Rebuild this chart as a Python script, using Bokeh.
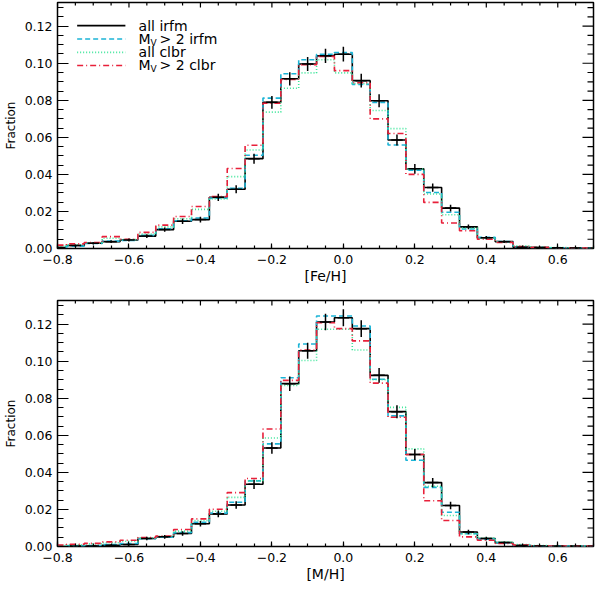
import math

from bokeh.plotting import figure
from bokeh.models import Range1d, FixedTicker
from bokeh.layouts import column
from bokeh.core.properties import value
from bokeh.embed import file_html
from bokeh.resources import INLINE

# bin centres (width 0.05)
bins = [-0.80, -0.75, -0.70, -0.65, -0.60, -0.55, -0.50, -0.45, -0.40, -0.35,
        -0.30, -0.25, -0.20, -0.15, -0.10, -0.05, 0.00, 0.05, 0.10, 0.15,
        0.20, 0.25, 0.30, 0.35, 0.40, 0.45, 0.50, 0.55, 0.60, 0.65, 0.70]

# [Fe/H] panel
fe_all_irfm = [0.0005, 0.0016, 0.0028, 0.0037, 0.0046, 0.0067, 0.0102, 0.0147, 0.0156, 0.0276,
               0.0320, 0.0485, 0.0789, 0.0916, 0.0996, 0.1040, 0.1049, 0.0906, 0.0798, 0.0586,
               0.0430, 0.0329, 0.0218, 0.0117, 0.0058, 0.0037, 0.0007, 0.0005, 0.0004, 0.0003, 0.0002]
fe_all_irfm_err = [0.0003, 0.0005, 0.0006, 0.0007, 0.0008, 0.0010, 0.0012, 0.0015, 0.0015, 0.0020,
                   0.0022, 0.0027, 0.0034, 0.0036, 0.0038, 0.0039, 0.0040, 0.0037, 0.0035, 0.0030,
                   0.0026, 0.0022, 0.0018, 0.0013, 0.0009, 0.0007, 0.0003, 0.0003, 0.0002, 0.0002, 0.0002]
fe_mv_irfm = [0.0003, 0.0013, 0.0027, 0.0040, 0.0044, 0.0071, 0.0107, 0.0150, 0.0165, 0.0272,
              0.0325, 0.0503, 0.0812, 0.0943, 0.1019, 0.1049, 0.1058, 0.0886, 0.0789, 0.0559,
              0.0423, 0.0302, 0.0196, 0.0105, 0.0060, 0.0037, 0.0007, 0.0005, 0.0004, 0.0003, 0.0002]
fe_all_clbr = [0.0012, 0.0020, 0.0030, 0.0055, 0.0048, 0.0078, 0.0117, 0.0161, 0.0211, 0.0267,
               0.0388, 0.0532, 0.0736, 0.0865, 0.0948, 0.1019, 0.0948, 0.0890, 0.0745, 0.0647,
               0.0430, 0.0294, 0.0182, 0.0110, 0.0055, 0.0035, 0.0015, 0.0008, 0.0005, 0.0004, 0.0003]
fe_mv_clbr = [0.0018, 0.0025, 0.0032, 0.0064, 0.0050, 0.0087, 0.0126, 0.0173, 0.0227, 0.0280,
              0.0432, 0.0557, 0.0784, 0.0912, 0.0992, 0.1037, 0.0960, 0.0895, 0.0700, 0.0621,
              0.0400, 0.0249, 0.0138, 0.0096, 0.0050, 0.0033, 0.0010, 0.0006, 0.0004, 0.0003, 0.0002]

# [M/H] panel
m_all_irfm = [0.0000, 0.0002, 0.0003, 0.0007, 0.0011, 0.0043, 0.0052, 0.0070, 0.0123, 0.0176,
              0.0224, 0.0336, 0.0532, 0.0879, 0.1057, 0.1212, 0.1235, 0.1176, 0.0924, 0.0728,
              0.0497, 0.0345, 0.0221, 0.0078, 0.0043, 0.0021, 0.0005, 0.0003, 0.0002, 0.0002, 0.0001]
m_all_irfm_err = [0.0001, 0.0002, 0.0003, 0.0004, 0.0005, 0.0009, 0.0010, 0.0012, 0.0015, 0.0018,
                  0.0020, 0.0025, 0.0031, 0.0039, 0.0043, 0.0045, 0.0046, 0.0045, 0.0040, 0.0035,
                  0.0030, 0.0025, 0.0020, 0.0012, 0.0009, 0.0006, 0.0003, 0.0002, 0.0002, 0.0002, 0.0001]
m_mv_irfm = [0.0000, 0.0003, 0.0005, 0.0010, 0.0016, 0.0042, 0.0050, 0.0075, 0.0130, 0.0180,
             0.0239, 0.0354, 0.0554, 0.0911, 0.1093, 0.1244, 0.1244, 0.1190, 0.0903, 0.0705,
             0.0466, 0.0319, 0.0185, 0.0069, 0.0040, 0.0020, 0.0005, 0.0003, 0.0002, 0.0002, 0.0001]
m_all_clbr = [0.0005, 0.0009, 0.0014, 0.0020, 0.0028, 0.0045, 0.0055, 0.0083, 0.0140, 0.0190,
              0.0265, 0.0354, 0.0586, 0.0870, 0.1004, 0.1173, 0.1173, 0.1061, 0.0900, 0.0751,
              0.0527, 0.0325, 0.0167, 0.0069, 0.0045, 0.0025, 0.0010, 0.0005, 0.0003, 0.0003, 0.0002]
m_mv_clbr = [0.0008, 0.0012, 0.0017, 0.0025, 0.0034, 0.0048, 0.0057, 0.0092, 0.0149, 0.0201,
             0.0291, 0.0367, 0.0634, 0.0897, 0.1061, 0.1208, 0.1176, 0.1110, 0.0882, 0.0698,
             0.0497, 0.0247, 0.0140, 0.0052, 0.0034, 0.0016, 0.0008, 0.0004, 0.0003, 0.0002, 0.0002]

x_ticks = [-0.8, -0.6, -0.4, -0.2, 0.0, 0.2, 0.4, 0.6]
x_labels = ["\u22120.8", "\u22120.6", "\u22120.4", "\u22120.2", "0.0", "0.2", "0.4", "0.6"]
y_ticks = [0.0, 0.02, 0.04, 0.06, 0.08, 0.10, 0.12]
y_labels = ["0.00", "0.02", "0.04", "0.06", "0.08", "0.10", "0.12"]

FONT = "DejaVu Sans"
CYAN = "#1cb4d6"
GREEN = "#3de69a"
RED = "#e8203a"
XMIN, XMAX = -0.8, 0.7
YMIN, YMAX = 0.0, 0.1328


def make_panel(black, black_err, cyan, green, red, xlabel, top, bottom, legend=False):
    p = figure(frame_width=536, frame_height=246, output_backend="svg", toolbar_location=None,
               x_range=Range1d(XMIN, XMAX), y_range=Range1d(YMIN, YMAX),
               min_border_left=47, min_border_right=2, min_border_top=top,
               min_border_bottom=bottom)
    p.grid.visible = False
    p.outline_line_color = "black"
    p.outline_line_width = 1.5
    p.background_fill_color = "white"
    p.border_fill_color = "white"

    xminor = [round(-0.8 + 0.05 * i, 2) for i in range(31)]
    yminor = [round(0.005 * i, 3) for i in range(27)]
    p.xaxis.ticker = FixedTicker(ticks=x_ticks, minor_ticks=xminor)
    p.yaxis.ticker = FixedTicker(ticks=y_ticks, minor_ticks=yminor)
    p.xaxis.major_label_overrides = dict(zip(x_ticks, x_labels))
    p.yaxis.major_label_overrides = dict(zip(y_ticks, y_labels))

    for ax, tin, tmin in ((p.xaxis, 5, 3), (p.yaxis, 11, 6)):
        ax.axis_line_color = None
        ax.major_tick_in = tin
        ax.major_tick_out = 0
        ax.minor_tick_in = tmin
        ax.minor_tick_out = 0
        ax.major_tick_line_color = "black"
        ax.minor_tick_line_color = "black"
        ax.major_tick_line_width = 1.2
        ax.minor_tick_line_width = 1.2
        ax.major_label_text_font = FONT
        ax.major_label_text_font_size = "12.5px"
        ax.major_label_text_color = "black"
        ax.axis_label_text_font = FONT
        ax.axis_label_text_font_style = "normal"
        ax.axis_label_text_color = "black"
    p.xaxis.major_label_standoff = 6
    p.yaxis.major_label_standoff = 5
    p.xaxis.axis_label = xlabel
    p.xaxis.axis_label_text_font_size = "14px"
    p.xaxis.axis_label_standoff = 1
    p.yaxis.axis_label = "Fraction"
    p.yaxis.axis_label_text_font_size = "12px"
    p.yaxis.axis_label_standoff = 4

    # inward ticks on the top and right edges (half of each dash is clipped away)
    top_minor = [t for t in xminor if t not in x_ticks]
    right_minor = [t for t in yminor if t not in y_ticks]
    p.scatter(x_ticks, [YMAX] * len(x_ticks), marker="dash", size=10, angle=math.pi / 2,
              line_color="black", line_width=1.2)
    p.scatter(top_minor, [YMAX] * len(top_minor), marker="dash", size=6, angle=math.pi / 2,
              line_color="black", line_width=1.2)
    p.scatter([XMAX] * len(y_ticks), y_ticks, marker="dash", size=22,
              line_color="black", line_width=1.2)
    p.scatter([XMAX] * len(right_minor), right_minor, marker="dash", size=12,
              line_color="black", line_width=1.2)

    p.step(bins, black, mode="center", line_color="black", line_width=1.6)
    p.step(bins, cyan, mode="center", line_color=CYAN, line_width=1.6, line_dash="5 3")
    p.step(bins, green, mode="center", line_color=GREEN, line_width=1.6, line_dash="1 2")
    p.step(bins, red, mode="center", line_color=RED, line_width=1.6, line_dash="6 3 1 3")

    # error crosses on the black histogram
    lo = [v - e for v, e in zip(black, black_err)]
    hi = [v + e for v, e in zip(black, black_err)]
    p.segment(bins, lo, bins, hi, line_color="black", line_width=1.5)
    p.segment([b - 0.016 for b in bins], black, [b + 0.016 for b in bins], black,
              line_color="black", line_width=1.5)

    if legend:
        rows = [0.1203, 0.1131, 0.1059, 0.0988]
        colors = ["black", CYAN, GREEN, RED]
        dashes = ["solid", "5 3", "1 2", "6 3 1 3"]
        for yy, c, d in zip(rows, colors, dashes):
            p.line([-0.745, -0.61], [yy, yy], line_color=c, line_width=1.6, line_dash=d)
        tx = -0.573
        opts = dict(text_font=value(FONT), text_color="black", text_baseline="middle",
                    text_align="left")
        p.text([tx, tx], [rows[0], rows[2]], text=["all irfm", "all clbr"],
               text_font_size="14px", **opts)
        p.text([tx, tx], [rows[1], rows[3]], text=["M", "M"], text_font_size="14px", **opts)
        p.text([tx, tx], [rows[1], rows[3]], text=["V", "V"], text_font_size="9px",
               x_offset=12, y_offset=4, **opts)
        p.text([tx, tx], [rows[1], rows[3]], text=["> 2 irfm", "> 2 clbr"],
               text_font_size="14px", x_offset=21, **opts)
    return p


p1 = make_panel(fe_all_irfm, fe_all_irfm_err, fe_mv_irfm, fe_all_clbr, fe_mv_clbr,
                "[Fe/H]", 2, 50, legend=True)
p2 = make_panel(m_all_irfm, m_all_irfm_err, m_mv_irfm, m_all_clbr, m_mv_clbr,
                "[M/H]", 2, 38)

p = column(p1, p2, spacing=0)
open("out.html", "w").write(file_html(p, INLINE))
